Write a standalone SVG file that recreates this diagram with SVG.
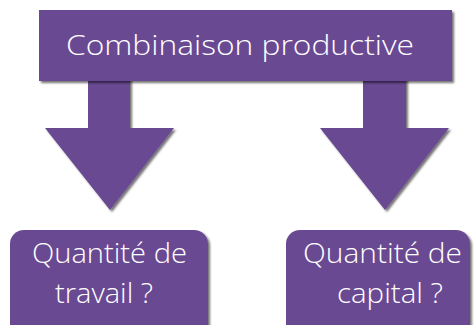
<svg xmlns="http://www.w3.org/2000/svg" width="474" height="325" viewBox="0 0 474 325">
<defs>
<filter id="sh" x="-10%" y="-10%" width="125%" height="130%">
<feDropShadow dx="2" dy="2" stdDeviation="1.2" flood-color="#000" flood-opacity="0.55"/>
</filter>
</defs>
<style>
.box{fill:#6b4893;filter:url(#sh)}
.t{font-family:"Open Sans","Liberation Sans",Arial,sans-serif;font-weight:300;font-size:28px;fill:#ffffff;text-anchor:middle}
</style>
<rect width="474" height="325" fill="#ffffff"/>
<g id="connectors">
<path class="box" d="M88,78 L130,78 L130,128 L174,128 L110,210 L45,128 L88,128 Z"/>
<path class="box" d="M363,78 L406,78 L406,128 L449,128 L385,210 L320,128 L363,128 Z"/>
</g>
<g id="combinaison">
<rect class="box" x="39" y="10" width="413" height="71"/>
<text class="t" x="240" y="55" textLength="348" lengthAdjust="spacingAndGlyphs">Combinaison productive</text>
</g>
<g id="travail">
<rect class="box" x="10" y="230" width="198" height="110" rx="14"/>
<text class="t" x="109.5" y="263" textLength="155" lengthAdjust="spacingAndGlyphs">Quantité de</text>
<text class="t" x="104" y="303" textLength="98" lengthAdjust="spacingAndGlyphs">travail ?</text>
</g>
<g id="capital">
<rect class="box" x="286" y="230" width="184" height="110" rx="14"/>
<text class="t" x="382.5" y="263" textLength="159" lengthAdjust="spacingAndGlyphs">Quantité de</text>
<text class="t" x="390" y="303" textLength="106" lengthAdjust="spacingAndGlyphs">capital ?</text>
</g>
</svg>
